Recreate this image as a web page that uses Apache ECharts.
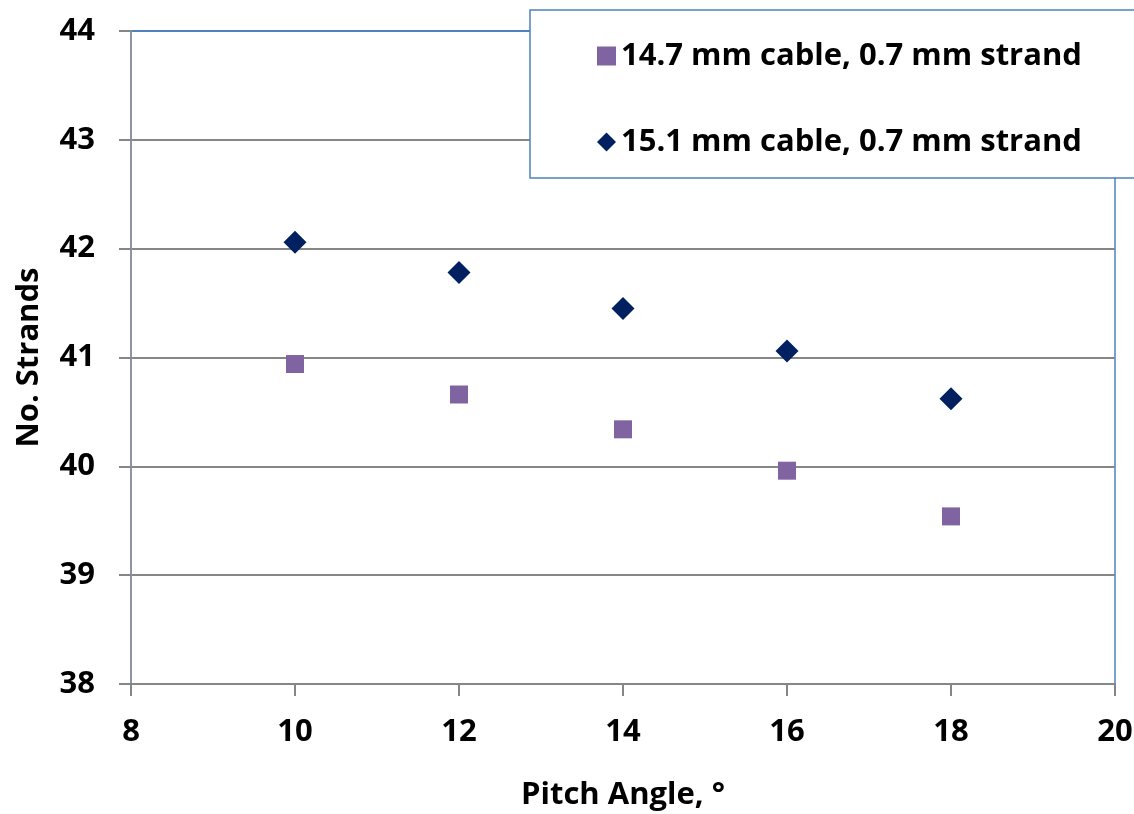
<!DOCTYPE html>
<html>
<head>
<meta charset="utf-8">
<script src="https://cdn.jsdelivr.net/npm/echarts@6/dist/echarts.min.js"></script>
<style>
	html, body { margin: 0; padding: 0; background: #ffffff; }
	#chart { width: 1134px; height: 814px; }
</style>
</head>
<body>
<div id="chart"></div>
<script>
var pitchAngles = [10, 12, 14, 16, 18];
var strands147 = [40.94, 40.66, 40.34, 39.96, 39.54];
var strands151 = [42.06, 41.78, 41.45, 41.06, 40.62];
var seriesNames = ['14.7 mm cable, 0.7 mm strand', '15.1 mm cable, 0.7 mm strand'];

var font = 'Open Sans';
var myChart = echarts.init(document.getElementById('chart'));

function pairs(xs, ys) {
	var out = [];
	for (var i = 0; i < xs.length; i++) {
		out.push([xs[i], ys[i]]);
	}
	return out;
}

var gridColor = '#868686';
var option = {
	backgroundColor: '#ffffff',
	animation: false,
	textStyle: { fontFamily: font },
	grid: {
		left: 131,
		right: 19,
		top: 31,
		bottom: 130,
		outerBoundsMode: 'none',
		containLabel: false,
		show: true,
		borderColor: '#4F81BD',
		borderWidth: 1.5
	},
	graphic: [{
		type: 'rect',
		shape: { x: 530, y: 10, width: 620, height: 168 },
		style: { fill: '#ffffff', stroke: '#4F81BD', lineWidth: 1.5 },
		z: 10
	}],
	legend: {
		orient: 'vertical',
		left: 592,
		top: 32,
		z: 20,
		itemGap: 48,
		itemWidth: 19,
		itemHeight: 19,
		textStyle: { fontFamily: font, fontSize: 31, fontWeight: 'bold', color: '#000', lineHeight: 38 },
		data: [
			{ name: seriesNames[0], itemStyle: { color: '#8064A2', opacity: 1 }, icon: 'rect' },
			{ name: seriesNames[1], itemStyle: { color: '#002060', opacity: 1 }, icon: 'diamond' }
		]
	},
	xAxis: {
		type: 'value',
		min: 8,
		max: 20,
		interval: 2,
		name: 'Pitch Angle, \u00b0',
		nameLocation: 'middle',
		nameGap: 96,
		nameTextStyle: { fontFamily: font, fontSize: 31, fontWeight: 'bold', color: '#000' },
		axisLine: { show: true, lineStyle: { color: gridColor, width: 2 } },
		axisTick: { show: true, length: 12, lineStyle: { color: gridColor, width: 2 } },
		axisLabel: { margin: 33, fontFamily: font, fontSize: 31, fontWeight: 'bold', color: '#000' },
		splitLine: { show: false }
	},
	yAxis: {
		type: 'value',
		min: 38,
		max: 44,
		interval: 1,
		name: 'No. Strands',
		nameLocation: 'middle',
		nameGap: 86,
		nameRotate: 90,
		nameTextStyle: { fontFamily: font, fontSize: 31, fontWeight: 'bold', color: '#000' },
		axisLine: { show: true, lineStyle: { color: '#8A96A8', width: 2 } },
		axisTick: { show: true, length: 12, lineStyle: { color: gridColor, width: 2 } },
		axisLabel: { margin: 36, fontFamily: font, fontSize: 31, fontWeight: 'bold', color: '#000' },
		splitLine: {
			show: true,
			lineStyle: { color: [gridColor, gridColor, gridColor, gridColor, gridColor, gridColor, '#4F81BD'], width: 2 }
		}
	},
	series: [{
		name: seriesNames[0],
		type: 'scatter',
		symbol: 'rect',
		symbolSize: 18,
		itemStyle: { color: '#8064A2', opacity: 1 },
		data: pairs(pitchAngles, strands147)
	}, {
		name: seriesNames[1],
		type: 'scatter',
		symbol: 'diamond',
		symbolSize: 23,
		itemStyle: { color: '#002060', opacity: 1 },
		data: pairs(pitchAngles, strands151)
	}]
};
myChart.setOption(option);
</script>
</body>
</html>
